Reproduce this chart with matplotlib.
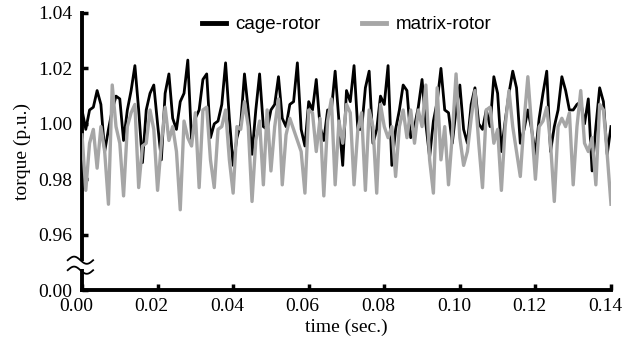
import numpy as np
import matplotlib
matplotlib.use("Agg")
import matplotlib.pyplot as plt
from matplotlib.patches import Rectangle
from matplotlib.transforms import ScaledTranslation

# time axis (s), 1 ms step
time_s = [i / 1000 for i in range(141)]

cage_rotor = [
    1.005, 0.998, 1.005, 1.006, 1.012, 1.007, 0.990, 0.998, 1.005, 1.010,
    1.009, 0.994, 1.005, 1.012, 1.021, 1.005, 0.986, 1.005, 1.011, 1.014,
    1.000, 0.987, 1.011, 1.018, 1.002, 0.998, 1.008, 1.011, 1.023, 0.994,
    1.002, 1.005, 1.016, 1.018, 0.995, 1.000, 1.001, 1.007, 1.022, 1.002,
    0.985, 0.995, 1.000, 1.018, 1.005, 0.989, 1.005, 1.018, 0.999, 0.998,
    1.005, 1.007, 1.017, 1.002, 0.999, 1.007, 1.008, 1.022, 0.998, 0.992,
    1.008, 1.005, 1.016, 0.999, 0.994, 1.005, 1.005, 1.019, 1.001, 0.985,
    1.012, 1.008, 1.021, 0.998, 0.998, 1.013, 1.019, 0.993, 0.998, 1.010,
    1.007, 1.021, 0.985, 0.998, 1.005, 1.014, 1.012, 0.995, 0.999, 1.006,
    1.016, 1.000, 0.988, 1.001, 1.008, 1.020, 1.005, 1.004, 0.993, 1.005,
    1.014, 0.998, 0.993, 1.007, 1.013, 1.000, 0.998, 1.005, 0.999, 1.017,
    1.011, 0.990, 1.001, 1.011, 1.019, 1.013, 0.993, 0.998, 1.005, 0.998,
    0.989, 1.002, 1.011, 1.019, 0.990, 0.999, 1.005, 1.017, 1.012, 1.005,
    1.005, 1.007, 1.008, 1.000, 1.009, 0.983, 0.999, 1.013, 1.008, 0.989,
    0.999,
]

matrix_rotor = [
    0.996, 0.976, 0.993, 0.998, 0.984, 0.999, 0.990, 0.971, 1.014, 0.999,
    0.993, 0.974, 0.999, 1.004, 1.007, 0.977, 0.992, 0.993, 1.005, 0.998,
    0.976, 0.993, 1.006, 0.994, 0.999, 0.990, 0.969, 1.001, 0.995, 0.992,
    1.004, 0.977, 1.005, 1.006, 0.987, 0.977, 0.998, 0.999, 1.005, 0.987,
    0.975, 0.999, 0.998, 1.008, 0.999, 0.972, 0.994, 1.001, 0.978, 1.005,
    0.983, 0.999, 1.009, 0.978, 0.996, 1.002, 0.998, 0.994, 0.990, 0.975,
    1.005, 1.004, 0.990, 1.002, 0.974, 1.001, 1.009, 0.978, 1.001, 0.993,
    1.007, 1.004, 0.978, 0.998, 1.004, 0.976, 1.005, 0.999, 0.975, 1.007,
    0.999, 0.995, 0.999, 0.981, 0.999, 1.005, 0.995, 1.005, 0.993, 1.005,
    0.999, 1.014, 0.987, 0.975, 1.013, 0.987, 0.999, 0.978, 0.996, 1.018,
    0.995, 0.985, 0.990, 1.002, 1.012, 0.993, 0.977, 1.005, 1.006, 0.993,
    0.998, 0.976, 0.999, 1.012, 0.999, 0.990, 0.981, 1.001, 1.017, 0.999,
    0.980, 0.999, 1.001, 1.006, 0.993, 0.972, 0.999, 1.002, 0.999, 1.004,
    0.978, 0.999, 1.012, 0.993, 0.990, 0.995, 0.978, 1.007, 1.005, 0.989,
    0.971,
]

series_labels = ["cage-rotor", "matrix-rotor"]
y_tick_values = [0.94, 0.96, 0.98, 1.00, 1.02, 1.04]
y_tick_labels = ["0.00", "0.96", "0.98", "1.00", "1.02", "1.04"]
x_tick_values = [0.00, 0.02, 0.04, 0.06, 0.08, 0.10, 0.12, 0.14]
x_tick_labels = ["0.00", "0.02", "0.04", "0.06", "0.08", "0.10", "0.12", "0.14"]

serif = ["Liberation Serif", "DejaVu Serif"]
sans = ["Liberation Sans", "DejaVu Sans"]

fig = plt.figure(figsize=(6.26, 3.5), dpi=100)
ax = fig.add_axes([0.131, 0.171, 0.845, 0.792])

ax.plot(time_s, cage_rotor, color="black", lw=2.0, label=series_labels[0], zorder=2)
ax.plot(time_s, matrix_rotor, color="#a6a6a6", lw=2.4, label=series_labels[1], zorder=3)

ax.set_xlim(0, 0.14)
ax.set_ylim(0.94, 1.04)
ax.set_xticks(x_tick_values)
ax.set_xticklabels(x_tick_labels, fontfamily=serif, fontsize=14)
ax.set_yticks(y_tick_values)
ax.set_yticklabels(y_tick_labels, fontfamily=serif, fontsize=14)
ax.tick_params(axis="y", direction="in", length=4, width=2.5, pad=7)
ax.tick_params(axis="x", direction="in", length=4, width=2.5, pad=6)

shift = ScaledTranslation(-0.06, 0, fig.dpi_scale_trans)
for lbl in ax.get_xticklabels():
    lbl.set_transform(lbl.get_transform() + shift)

for s in ["top", "right"]:
    ax.spines[s].set_visible(False)
for s in ["left", "bottom"]:
    ax.spines[s].set_linewidth(2.8)

ax.set_xlabel("time (sec.)", fontfamily=serif, fontsize=14, labelpad=2)
ax.set_ylabel("torque (p.u.)", fontfamily=serif, fontsize=14, labelpad=5)

leg = ax.legend(loc="upper center", bbox_to_anchor=(0.5, 1.05), ncol=2, frameon=False,
                prop={"family": sans, "size": 13.5}, handlelength=1.3, columnspacing=2.2,
                handletextpad=0.5)
for line in leg.get_lines():
    line.set_linewidth(3.5)

# axis break marks
ax.add_patch(Rectangle((-0.01, 0.075), 0.02, 0.03, transform=ax.transAxes,
                       facecolor="white", edgecolor="none", clip_on=False, zorder=10))
xs = np.linspace(-0.027, 0.021, 40)
wave = 0.013 * np.sin((xs - xs[0]) / (xs[-1] - xs[0]) * 2 * np.pi)
for yc in (0.108, 0.072):
    ax.plot(xs, yc + wave, color="black", lw=1.3, transform=ax.transAxes,
            clip_on=False, zorder=11)

fig.savefig("out.png", dpi=100)
